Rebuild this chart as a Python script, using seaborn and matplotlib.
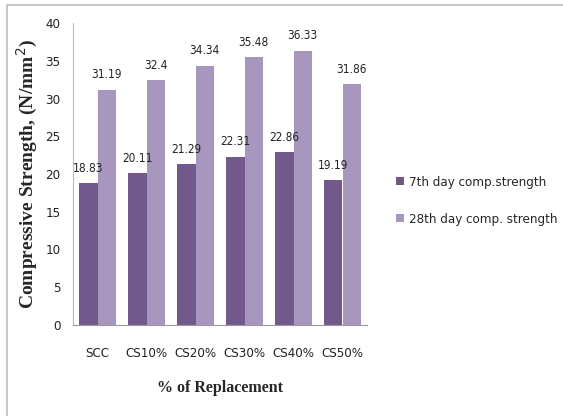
import matplotlib
matplotlib.use("Agg")
import matplotlib.pyplot as plt
import seaborn as sns
import pandas as pd
from matplotlib.patches import Rectangle, Patch

categories = ["SCC", "CS10%", "CS20%", "CS30%", "CS40%", "CS50%"]
day7 = [18.83, 20.11, 21.29, 22.31, 22.86, 19.19]
day28 = [31.19, 32.4, 34.34, 35.48, 36.33, 31.86]
series = ["7th day comp.strength", "28th day comp. strength"]
label7 = ["18.83", "20.11", "21.29", "22.31", "22.86", "19.19"]
label28 = ["31.19", "32.4", "34.34", "35.48", "36.33", "31.86"]
colors = ["#72598c", "#a797be"]

df = pd.DataFrame({
    "cat": categories * 2,
    "val": day7 + day28,
    "series": [series[0]] * 6 + [series[1]] * 6,
})

sns.set_style("white")
narrow = ["Liberation Sans Narrow", "DejaVu Sans"]
serif = ["Liberation Serif", "DejaVu Serif"]
nprop = dict(family=narrow, stretch="condensed")

fig = plt.figure(figsize=(5.63, 4.16), dpi=100)
ax = fig.add_axes([73/563, 1 - 325/416, (367-73)/563, (325-23)/416])

sns.barplot(data=df, x="cat", y="val", hue="series", palette=colors, ax=ax,
            width=0.74, gap=0, saturation=1, legend=False, edgecolor="none")

for cont, labs in zip(ax.containers, [label7, label28]):
    ax.bar_label(cont, labels=labs, padding=6, fontsize=8.5, color="#222222", **nprop)

ax.set_ylim(0, 40)
ax.set_xlim(-0.5, 5.5)
ax.set_yticks(range(0, 41, 5))
ax.tick_params(axis="y", length=0, pad=9, labelsize=9.5)
ax.tick_params(axis="x", length=0, pad=16, labelsize=9.5)
for lab in ax.get_xticklabels() + ax.get_yticklabels():
    lab.set_family(narrow)
    lab.set_stretch("condensed")
    lab.set_color("#222222")
for s in ["top", "right"]:
    ax.spines[s].set_visible(False)
ax.spines["left"].set_color("#bbbbbb")
ax.spines["bottom"].set_color("#999999")

ax.set_xlabel("% of Replacement", family=serif, fontweight="bold", fontsize=11.5, labelpad=14)
ax.set_ylabel("Compressive Strength, (N/mm$^2$)", family=serif, fontweight="bold",
              fontsize=14, labelpad=4)

handles = [Patch(facecolor=c, edgecolor="none") for c in colors]
leg = fig.legend(handles, series, loc="upper left", bbox_to_anchor=(384/563, 1 - 164/416),
                 frameon=False, prop={"family": narrow, "size": 9.5, "stretch": "condensed"},
                 handlelength=0.6, handleheight=0.6, handletextpad=0.4, labelspacing=1.8)

fig.patches.append(Rectangle((7/563, -0.2), 1.5, 1.2 - 5/416, transform=fig.transFigure,
                             fill=False, edgecolor="#bdbdbd", linewidth=1.2))

fig.savefig("out.png", dpi=100)
